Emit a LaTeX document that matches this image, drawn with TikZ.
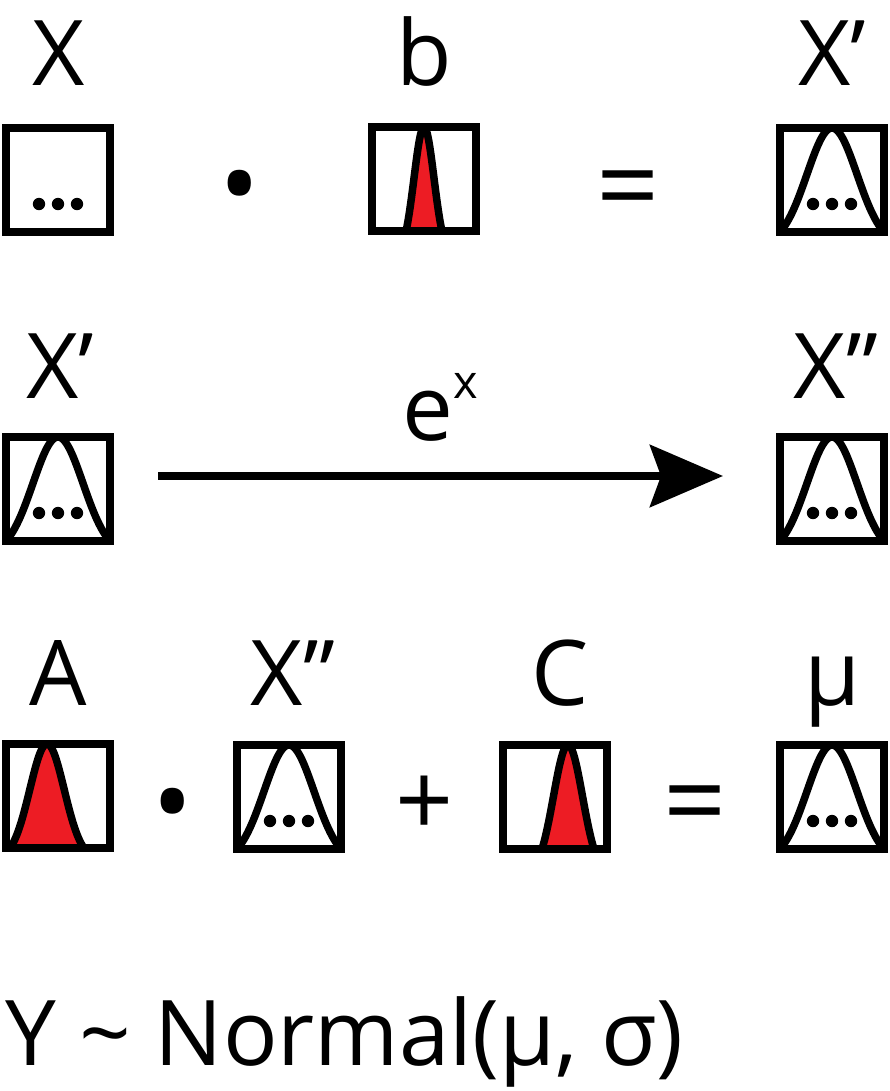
\documentclass[tikz,border=0pt]{standalone}
\usepackage{fontspec}
\setmainfont{Open Sans}
\usetikzlibrary{arrows.meta}
\definecolor{gred}{HTML}{ED1C24}
\newcommand{\gcurve}[6]{%
  \pgfmathsetmacro{\xw}{min(52,#4*sqrt(2*ln(1/#5)))}%
  \fill[#6] plot[domain=-\xw:\xw, samples=80] ({#1+#3+\x},{#2+52-104*(exp(-(\x*\x)/(2*#4*#4))-#5)/(1-#5)}) -- cycle;
  \draw[curve] plot[domain=-\xw:\xw, samples=80] ({#1+#3+\x},{#2+52-104*(exp(-(\x*\x)/(2*#4*#4))-#5)/(1-#5)});
}
\newcommand{\threedots}[2]{%
  \foreach \d in {-19,0,19} \fill ({#1+\d},{#2+24}) circle (6.2);
}
\begin{document}
\begin{tikzpicture}[x=1bp,y=-1bp,
  box/.style={draw, line width=8bp, minimum width=104bp, minimum height=104bp, inner sep=0pt},
  curve/.style={line width=7.5bp},
  lab/.style={font=\fontsize{91}{100}\selectfont, inner sep=0pt, anchor=base},
  bul/.style={font=\fontsize{108}{110}\selectfont, inner sep=0pt},
  eqs/.style={font=\fontsize{111}{115}\selectfont, inner sep=0pt},
  pls/.style={font=\fontsize{102}{110}\selectfont, inner sep=0pt}]
\useasboundingbox[fill=white] (0,0) rectangle (890,1091);
% ---------- row 1
\threedots{58}{180}
\gcurve{424}{179}{0}{10}{0.2}{gred}
\gcurve{832}{180}{0}{25}{0.115}{white}
\threedots{832}{180}
\node[box] (r1a) at (58,180) {};
\node[box] (r1b) at (424,179) {};
\node[box] (r1c) at (832,180) {};
\node[lab] (l1a) at (59,85) {X};
\node[lab] (l1b) at (424,85) {b};
\node[lab] (l1c) at (832,85) {X’};
\node[bul] (o1a) at (240,196) {•};
\node[eqs] (o1b) at (628,198) {=};
% ---------- row 2
\gcurve{58}{489}{0}{25}{0.115}{white}
\threedots{58}{489}
\gcurve{832}{489}{0}{25}{0.115}{white}
\threedots{832}{489}
\node[box] (r2a) at (58,489) {};
\node[box] (r2b) at (832,489) {};
\node[lab] (l2a) at (60,398) {X’};
\node[lab] (l2b) at (836,398) {X”};
\node[lab, anchor=base west] (l2e) at (402,440) {e\raisebox{0.46em}{\fontsize{47}{50}\selectfont x}};
\draw[line width=8bp, -{Stealth[length=73bp, width=62bp, inset=11bp]}, shorten <=44bp, shorten >=53bp] ([yshift=13bp]r2a.east) -- ([yshift=13bp]r2b.west);
% ---------- row 3
\gcurve{58}{796}{-11}{17.2}{0.1}{gred}
\gcurve{289}{797}{0}{25}{0.115}{white}
\threedots{289}{797}
\gcurve{555}{797}{13}{14.5}{0.2}{gred}
\gcurve{832}{797}{0}{25}{0.115}{white}
\threedots{832}{797}
\node[box] (r3a) at (58,796) {};
\node[box] (r3b) at (289,797) {};
\node[box] (r3c) at (555,797) {};
\node[box] (r3d) at (832,797) {};
\node[lab] (l3a) at (58,705) {A};
\node[lab] (l3b) at (293,705) {X”};
\node[lab] (l3c) at (560,705) {C};
\node[lab] (l3d) at (833,705) {μ};
\node[bul] (o3a) at (173,814) {•};
\node[pls] (o3b) at (425,806) {+};
\node[eqs] (o3c) at (695,813) {=};
% ---------- bottom
\node[lab, anchor=base west] (eq) at (5,1065) {Y \textasciitilde{} Normal(μ, σ)};
\end{tikzpicture}
\end{document}
